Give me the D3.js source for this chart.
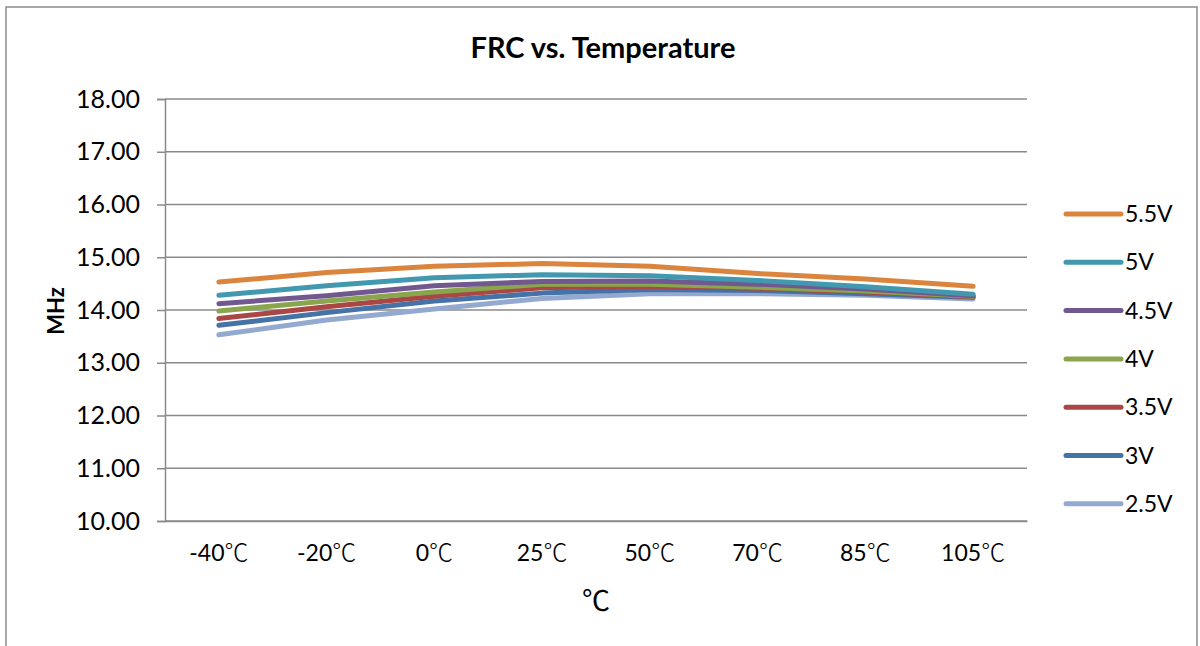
<!DOCTYPE html>
<html><head><meta charset="utf-8">
<script src="https://cdn.jsdelivr.net/npm/d3@7"></script>
<style>body{margin:0;background:#fff}svg{display:block}</style>
</head><body>
<svg id="c" width="1200" height="646"></svg>
<script>
const categories = ["-40℃","-20℃","0℃","25℃","50℃","70℃","85℃","105℃"];
const seriesNames = ["5.5V","5V","4.5V","4V","3.5V","3V","2.5V"];
const v55 = [14.53,14.71,14.83,14.88,14.83,14.69,14.59,14.45];
const v50 = [14.28,14.46,14.61,14.67,14.65,14.56,14.44,14.30];
const v45 = [14.12,14.27,14.46,14.54,14.55,14.49,14.40,14.27];
const v40 = [13.98,14.17,14.34,14.49,14.49,14.43,14.36,14.26];
const v35 = [13.84,14.06,14.26,14.42,14.45,14.41,14.34,14.25];
const v30 = [13.71,13.95,14.17,14.32,14.39,14.37,14.31,14.24];
const v25 = [13.53,13.81,14.02,14.22,14.31,14.31,14.28,14.21];
const yTicks = [10,11,12,13,14,15,16,17,18];
const colors = ["#DB843D","#4198AF","#71588F","#89A54E","#AA4643","#4572A7","#93A9CF"];
const seriesValues = [v55,v50,v45,v40,v35,v30,v25];

const font = "Lato, sans-serif";
const cjk = "'Noto Sans CJK SC', sans-serif";
const svg = d3.select("#c");
svg.append("rect").attr("x",6).attr("y",7).attr("width",1191).attr("height",660)
  .attr("fill","#fff").attr("stroke","#8c8c8c").attr("stroke-width",1.5);

const L=165, R=1027, T=99, B=521;
const x = d3.scaleBand().domain(categories).range([L,R]);
const y = d3.scaleLinear().domain([10,18]).range([B,T]);

svg.append("g").selectAll("line").data(yTicks).join("line")
  .attr("x1",L).attr("x2",R).attr("y1",d=>y(d)).attr("y2",d=>y(d))
  .attr("stroke","#8a8a8a").attr("stroke-width",1.5);

const yAxis = svg.append("g").attr("transform",`translate(${L},0)`)
  .call(d3.axisLeft(y).tickValues(yTicks).tickFormat(d3.format(".2f")).tickSize(8).tickPadding(17));
yAxis.select(".domain").attr("stroke","#8a8a8a").attr("stroke-width",1.5);
yAxis.selectAll(".tick line").attr("stroke","#8a8a8a").attr("stroke-width",1.5);
yAxis.selectAll("text").attr("font-family",font).attr("font-size",25).attr("fill","#000");

const xAxis = svg.append("g").attr("transform",`translate(0,${B})`)
  .call(d3.axisBottom(x).tickSize(0).tickPadding(24));
xAxis.select(".domain").attr("stroke","#8a8a8a").attr("stroke-width",1.5);
xAxis.selectAll("text").attr("font-family",font).attr("font-size",23).attr("fill","#000")
  .each(function(d){
    const t = d3.select(this); t.text(null);
    const num = d.replace("℃","");
    t.append("tspan").text(num);
    t.append("tspan").attr("font-family",cjk).attr("font-weight",300).attr("font-size",24).text("℃");
  });

const line = d3.line().x((d,i)=>x(categories[i])+x.bandwidth()/2).y(d=>y(d));
svg.append("g").selectAll("path").data(seriesValues.slice().reverse()).join("path")
  .attr("d",line).attr("fill","none")
  .attr("stroke",(d,i)=>colors[colors.length-1-i]).attr("stroke-width",5)
  .attr("stroke-linecap","round").attr("stroke-linejoin","round");

svg.append("text").attr("x",603).attr("y",58).attr("text-anchor","middle")
  .attr("font-family",font).attr("font-weight","bold").attr("font-size",29).text("FRC vs. Temperature");
svg.append("text").attr("transform","translate(64,311) rotate(-90)").attr("text-anchor","middle")
  .attr("font-family",font).attr("font-weight","bold").attr("font-size",22).text("MHz");
svg.append("text").attr("x",596).attr("y",611).attr("text-anchor","middle")
  .attr("font-family",cjk).attr("font-size",28).text("℃");

const leg = svg.append("g").selectAll("g").data(seriesNames).join("g")
  .attr("transform",(d,i)=>`translate(1066,${214+i*48.3})`);
leg.append("line").attr("x1",0).attr("x2",55).attr("stroke",(d,i)=>colors[i])
  .attr("stroke-width",5).attr("stroke-linecap","round");
leg.append("text").attr("x",59).attr("dy","0.35em").attr("font-family",font)
  .attr("font-size",23).text(d=>d);
</script>
</body></html>
